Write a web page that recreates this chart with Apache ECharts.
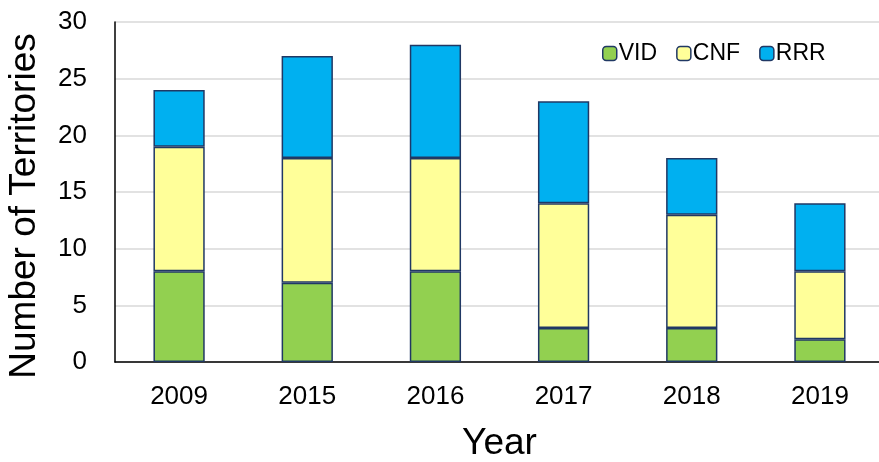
<!DOCTYPE html>
<html>
<head>
<meta charset="utf-8">
<script src="https://cdn.jsdelivr.net/npm/echarts@6/dist/echarts.min.js"></script>
<style>html,body{margin:0;padding:0;background:#fff;}#c{width:879px;height:462px;}</style>
</head>
<body>
<div id="c"></div>
<script>
const categories = ['2009', '2015', '2016', '2017', '2018', '2019'];
const vid = [8, 7, 8, 3, 3, 2];
const cnf = [11, 11, 10, 11, 10, 6];
const rrr = [5, 9, 10, 9, 5, 6];
const yTicks = [0, 5, 10, 15, 20, 25, 30];

const chart = echarts.init(document.getElementById('c'));
const font = 'Liberation Sans, Arial, sans-serif';
const border = '#203864';
function s(name, data, color) {
  return {
    name: name, type: 'bar', stack: 'a', data: data, barWidth: '40%',
    itemStyle: { color: color, borderColor: border, borderWidth: 1.5 }
  };
}
chart.setOption({
  animation: false,
  grid: { left: 115, right: -5, top: 22, bottom: 100, containLabel: false, outerBoundsMode: 'none' },
  legend: {
    left: 597, top: 37, itemWidth: 14, itemHeight: 14, itemGap: 19,
    textStyle: { fontFamily: font, fontSize: 23, color: '#000', padding: [0, 0, 0, -3] },
    data: [
      { name: 'VID', itemStyle: { borderColor: border, borderWidth: 1.5 } },
      { name: 'CNF', itemStyle: { borderColor: border, borderWidth: 1.5 } },
      { name: 'RRR', itemStyle: { borderColor: border, borderWidth: 1.5 } }
    ]
  },
  xAxis: {
    type: 'category', data: categories,
    name: 'Year', nameLocation: 'middle', nameGap: 63,
    nameTextStyle: { fontFamily: font, fontSize: 37, color: '#000' },
    axisLine: { lineStyle: { color: '#000', width: 1.5 } },
    axisTick: { show: false },
    axisLabel: { fontFamily: font, fontSize: 26, color: '#000', margin: 22 }
  },
  yAxis: {
    type: 'value', min: yTicks[0], max: yTicks[yTicks.length - 1], interval: 5,
    name: 'Number of Territories', nameLocation: 'middle', nameGap: 72,
    nameTextStyle: { fontFamily: font, fontSize: 37, color: '#000', padding: [0, 0, 0, -28] },
    axisLine: { show: true, lineStyle: { color: '#000', width: 1.5 } },
    axisTick: { show: false },
    axisLabel: { fontFamily: font, fontSize: 26, color: '#000', margin: 28 },
    splitLine: { lineStyle: { color: '#d9d9d9', width: 1.5 } }
  },
  series: [
    s('VID', vid, '#92d050'),
    s('CNF', cnf, '#ffff99'),
    s('RRR', rrr, '#00b0f0')
  ]
});
</script>
</body>
</html>
